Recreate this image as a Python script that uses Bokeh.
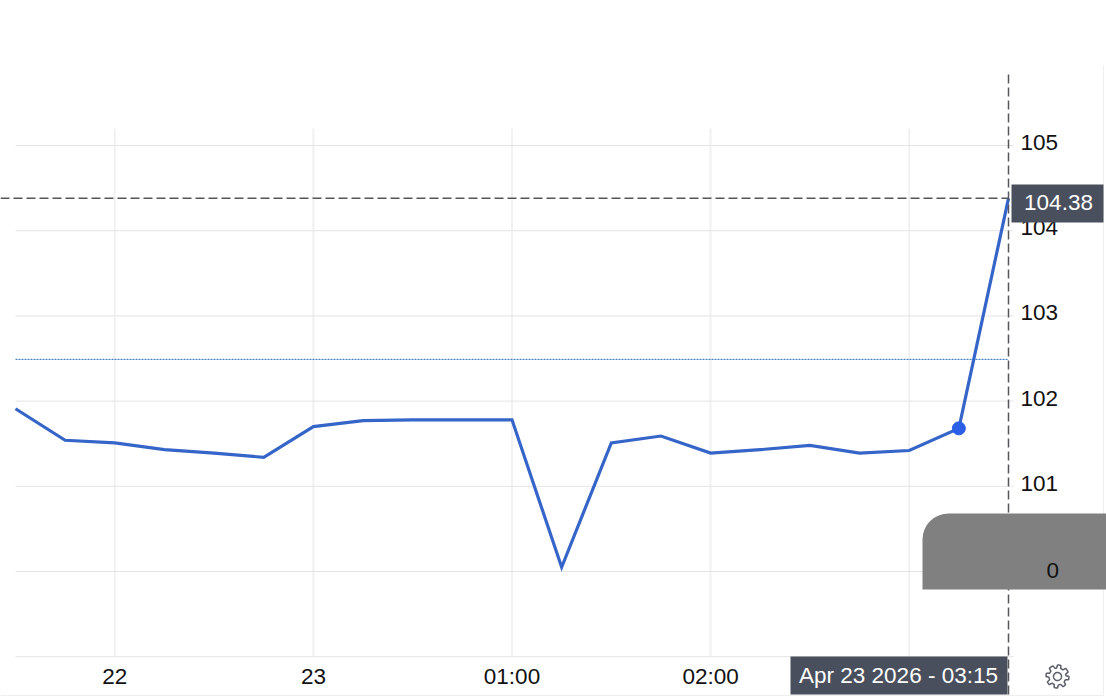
import numpy as np
from bokeh.plotting import figure
from bokeh.embed import file_html
from bokeh.resources import INLINE
from bokeh.models import FixedTicker, Label, Arrow, BoxAnnotation, PolyAnnotation, Range1d

# ---- data ----
slots = list(range(21))
prices = [101.91, 101.54, 101.51, 101.43, 101.39, 101.34, 101.70, 101.77, 101.78, 101.78, 101.78,
          100.05, 101.51, 101.59, 101.39, 101.43, 101.48, 101.39, 101.42, 101.68, 104.38]
y_ticks = [99, 100, 101, 102, 103, 104, 105]
y_labels = {99: "", 100: "100", 101: "101", 102: "102", 103: "103", 104: "104", 105: "105"}
x_ticks = [2, 6, 10, 14, 18]
x_labels = {2: "22", 6: "23", 10: "01:00", 14: "02:00", 18: ""}
marker_slot = 19
marker_price = 101.68
prior_close = 102.49
cross_slot = 20
cross_price = 104.38
cross_price_label = "104.38"
cross_time_label = "Apr 23 2026 - 03:15"

FONT = "Liberation Sans"
W, H = 1106, 697
PX_X, PX_Y = 49.65, 85.2
X0_PX, Y100_PX = 15, 571


def X(px):  # picture pixel to slot
    return (px - X0_PX) / PX_X


def Y(py):  # picture pixel to price
    return 100 + (Y100_PX - py) / PX_Y


p = figure(width=W, height=H, output_backend="svg", toolbar_location=None,
           x_range=(X(0), X(W)), y_range=(Y(H), Y(0)),
           y_axis_location="right", background_fill_color="white", border_fill_color="white",
           min_border=0)
p.outline_line_color = None

# the price labels sit a little above their grid lines
label_shift = 3 / PX_Y
p.extra_y_ranges["labels"] = Range1d(Y(H) - label_shift, Y(0) - label_shift)

for ax in (p.xaxis[0], p.yaxis[0]):
    ax.axis_line_color = None
    ax.major_tick_line_color = None
    ax.minor_tick_line_color = None
    ax.major_label_text_font = FONT
    ax.major_label_text_font_size = "22.5px"
    ax.major_label_text_color = "#111111"
p.xaxis[0].ticker = FixedTicker(ticks=x_ticks)
p.xaxis[0].major_label_overrides = x_labels
p.xaxis[0].major_label_standoff = 1
p.xaxis[0].fixed_location = 99
p.yaxis[0].ticker = FixedTicker(ticks=y_ticks)
p.yaxis[0].major_label_overrides = y_labels
p.yaxis[0].major_label_standoff = 6
p.yaxis[0].fixed_location = cross_slot
p.yaxis[0].y_range_name = "labels"

p.xgrid.visible = False
p.ygrid.visible = False
p.segment(x_ticks, [99] * len(x_ticks), x_ticks, [105.2] * len(x_ticks), line_color="#f1f1f1", line_width=2)
p.segment([0] * len(y_ticks), y_ticks, [20.1] * len(y_ticks), y_ticks, line_color="#e4e4e4", line_width=1)

p.line([slots[0], slots[-1]], [prior_close, prior_close], line_color="#1f6fb5", line_width=1, line_dash="2 1")
p.line(slots, prices, line_color="#3565c8", line_width=3.2, line_join="miter")
p.scatter([marker_slot], [marker_price], size=13, color="#2b5fe8")

# crosshair
dash = dict(line_color="#55565c", line_width=1.5, line_dash="9 4", end=None)
p.add_layout(Arrow(x_start=X(0), y_start=cross_price, x_end=cross_slot, y_end=cross_price, **dash))
p.add_layout(Arrow(x_start=cross_slot, y_start=Y(74), x_end=cross_slot, y_end=Y(697), **dash))

# grey patch over the right edge
p.add_layout(BoxAnnotation(left=X(922), right=X(1106), top=Y(513), bottom=Y(589),
                           fill_color="#808080", fill_alpha=1, line_color=None,
                           border_radius=(26, 0, 0, 0), level="overlay"))
p.add_layout(Label(x=X(1046), y=Y(570), text="0", text_font=FONT, text_font_size="22.5px",
                   text_color="#111111", text_baseline="middle", text_align="left", level="overlay"))

# readouts
p.add_layout(BoxAnnotation(left=X(1011), right=X(1103), top=Y(184), bottom=Y(222),
                           fill_color="#4a4f5e", fill_alpha=1, line_color=None, level="overlay"))
p.add_layout(Label(x=X(1058), y=Y(202), text=cross_price_label, text_font=FONT, text_font_size="22.5px",
                   text_color="white", text_baseline="middle", text_align="center", level="overlay"))
p.add_layout(BoxAnnotation(left=X(790), right=X(1007), top=Y(656), bottom=Y(694),
                           fill_color="#4a4f5e", fill_alpha=1, line_color=None, level="overlay"))
p.add_layout(Label(x=X(898), y=Y(675), text=cross_time_label, text_font=FONT, text_font_size="22.5px",
                   text_color="white", text_baseline="middle", text_align="center", level="overlay"))

# frame edges
edge = dict(line_color="#eeeeee", line_width=1, end=None)
p.add_layout(Arrow(x_start=X(1103), y_start=Y(65), x_end=X(1103), y_end=Y(695), **edge))
p.add_layout(Arrow(x_start=X(0), y_start=Y(695), x_end=X(1103), y_end=Y(695), **edge))

# settings gear
cx, cy, teeth = 1057, 676, 8
ang = np.linspace(0, 2 * np.pi, teeth * 8 + 1)
prof = np.where((((ang / (2 * np.pi) * teeth) % 1) < 0.5), 11.5, 8.5)
p.add_layout(PolyAnnotation(xs=[X(v) for v in cx + prof * np.cos(ang)], ys=[Y(v) for v in cy + prof * np.sin(ang)],
                            fill_alpha=0, line_color="#5b5f69", line_alpha=1, line_width=1.5))
a2 = np.linspace(0, 2 * np.pi, 40)
p.add_layout(PolyAnnotation(xs=[X(v) for v in cx + 4 * np.cos(a2)], ys=[Y(v) for v in cy + 4 * np.sin(a2)],
                            fill_alpha=0, line_color="#5b5f69", line_alpha=1, line_width=1.5))

open("out.html", "w").write(file_html(p, INLINE))
